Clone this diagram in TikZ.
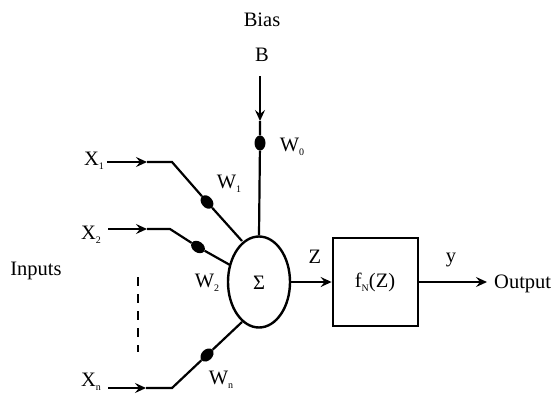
\documentclass[tikz,border=0pt]{standalone}
\usepackage{fontspec}
\setmainfont{Liberation Serif}
\usetikzlibrary{arrows.meta,shapes.geometric}
\newcommand{\sbs}[1]{\raisebox{-4pt}{\fontsize{10}{11}\selectfont #1}}
\begin{document}
\begin{tikzpicture}[x=1pt,y=-1pt,
  wire/.style={line width=2.2pt},
  tip/.style={-{Stealth[length=11pt,width=10pt,inset=4pt]}},
  weight/.style={ellipse,fill=black,minimum width=11pt,minimum height=15pt,inner sep=0pt},
  lbl/.style={font=\fontsize{20.5}{22}\selectfont,inner sep=0pt}]
\useasboundingbox (0,0) rectangle (557,400);
% summation node
\node[ellipse,draw,line width=2.4pt,minimum width=62pt,minimum height=91pt,inner sep=0pt] (sum) at (259,282) {};
\node[lbl] (sigma) at (259,283) {Σ};
% activation box
\node[draw,line width=2.8pt,minimum width=85pt,minimum height=88pt,inner sep=0pt] (box) at (375.5,282) {};
\node[lbl] (fn) at (375,282) {f\sbs{N}(Z)};
% bias
\node[lbl] (bias) at (262,20) {Bias};
\node[lbl] (B) at (262,55) {B};
\coordinate (btop) at (260,76);
\coordinate (bmid) at (260,121);
\node[weight] (w0) at (260,143) {};
\node[lbl] (w0l) at (292,147) {W\sbs{0}};
\draw[wire,tip] (btop) -- (bmid);
\draw[wire] (bmid) -- (w0) -- (sum.north);
% input 1
\node[lbl] (x1) at (94,161) {X\sbs{1}};
\coordinate (x1s) at (107,162);
\coordinate (x1m) at (147,162);
\coordinate (x1c) at (172,162);
\coordinate (x1e) at (242,241);
\node[weight,rotate=40] (w1) at (207,202) {};
\node[lbl] (w1l) at (229,184) {W\sbs{1}};
\draw[wire,tip] (x1s) -- (x1m);
\draw[wire] (x1m) -- (x1c) -- (w1) -- (x1e);
% input 2
\node[lbl] (x2) at (91,235) {X\sbs{2}};
\coordinate (x2s) at (108,229);
\coordinate (x2m) at (147,229);
\coordinate (x2c) at (170,229);
\coordinate (x2e) at (230,265);
\node[weight,rotate=55] (w2) at (198,247) {};
\node[lbl] (w2l) at (207,283) {W\sbs{2}};
\draw[wire,tip] (x2s) -- (x2m);
\draw[wire] (x2m) -- (x2c) -- (w2) -- (x2e);
% input n
\node[lbl] (xn) at (91,382) {X\sbs{n}};
\coordinate (xns) at (108,388);
\coordinate (xnm) at (146,388);
\coordinate (xnc) at (172,388);
\coordinate (xne) at (242,322);
\node[weight,rotate=-45] (wn) at (207,355) {};
\node[lbl] (wnl) at (221,380) {W\sbs{n}};
\draw[wire,tip] (xns) -- (xnm);
\draw[wire] (xnm) -- (xnc) -- (wn) -- (xne);
% dots
\coordinate (dtop) at (138,277);
\coordinate (dbot) at (138,352);
\draw[line width=2.2pt,dash pattern=on 9pt off 8pt] (dtop) -- (dbot);
\node[lbl] (inputs) at (36,271) {Inputs};
% output side
\draw[wire,tip] (sum.east) -- (box.west |- sum.east);
\node[lbl] (Z) at (315,257) {Z};
\coordinate (outtip) at (487,282);
\draw[wire,tip] (box.east |- outtip) -- (outtip);
\node[lbl] (y) at (451,260) {y};
\node[lbl,anchor=west] (out) at (494,284) {Output};
\end{tikzpicture}
\end{document}
